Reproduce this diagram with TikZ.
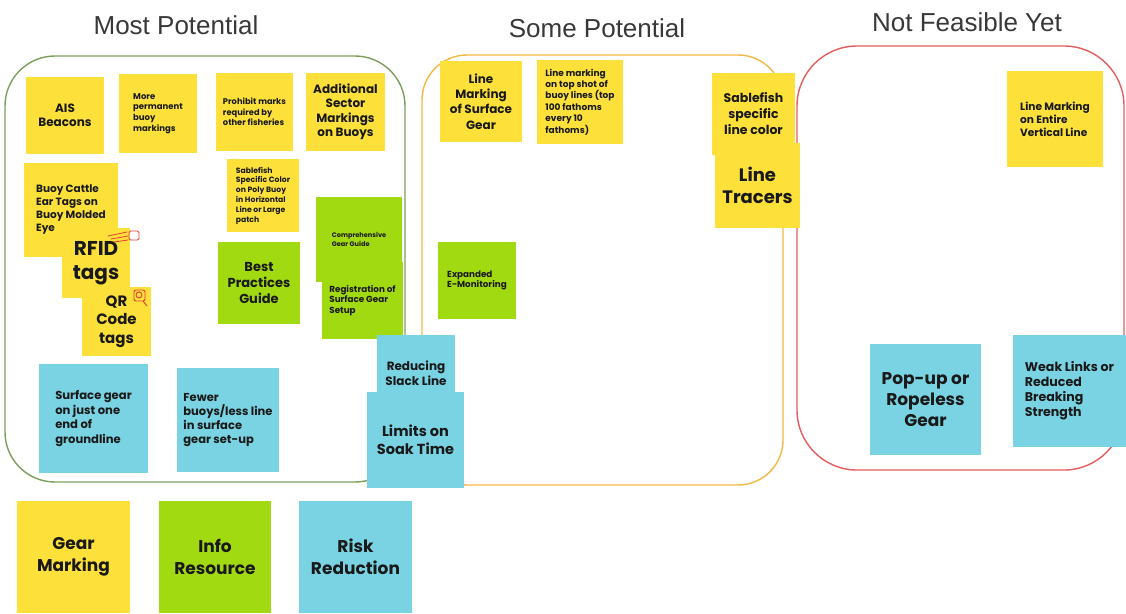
\documentclass[tikz,border=0pt]{standalone}
\usepackage{fontspec}
\setmainfont{Poppins}
\newfontfamily\headfont{Liberation Sans}
\definecolor{stickyyellow}{HTML}{FDE13A}
\definecolor{stickylime}{HTML}{A2DA12}
\definecolor{stickyaqua}{HTML}{7AD3E2}
\definecolor{colgreen}{HTML}{7BA05B}
\definecolor{colorange}{HTML}{F4B844}
\definecolor{colred}{HTML}{E65C5C}
\definecolor{doodle}{HTML}{E63C3C}
\begin{document}
\begin{tikzpicture}[
      x=1pt, y=-1pt,
      note/.style={inner sep=0pt, align=center, text=black!90},
      yel/.style={note, fill=stickyyellow},
      lime/.style={note, fill=stickylime},
      aqua/.style={note, fill=stickyaqua},
      lft/.style={align=left},
      fs/.style 2 args={font=\fontsize{#1}{#2}\selectfont\bfseries},
      wh/.style 2 args={minimum width=#1pt, minimum height=#2pt},
      column/.style={line width=1.4pt},
      heading/.style={font=\headfont\fontsize{26}{30}\selectfont, text=black!78}
    ]
    \useasboundingbox (0,0) rectangle (1126,613);

    % Column frames
    \draw[column, draw=colgreen, rounded corners=50pt] (5,56) rectangle (405,482);
    \draw[column, draw=colorange, rounded corners=45pt] (422,55) rectangle (783,485);
    \draw[column, draw=colred, rounded corners=60pt] (797,46) rectangle (1124,470);

    % Column headings
    \node[heading] (hmost) at (176,25) {Most Potential};
    \node[heading] (hsome) at (597,28) {Some Potential};
    \node[heading] (hnot) at (967,22) {Not Feasible Yet};

    % Most potential: gear marking
    \node[yel, wh={78}{77}, fs={12}{14.5}] (ais) at (65,115.5) {AIS\\Beacons};
    \node[yel, lft, wh={78}{79}, fs={8.5}{10.8}] (perm) at (158,113.5) {More\\permanent\\buoy\\markings};
    \node[yel, lft, wh={77}{78}, fs={8.3}{10.6}] (prohib) at (254.5,112) {Prohibit marks\\required by\\other fisheries};
    \node[yel, wh={79}{78}, fs={12}{14.5}] (sector) at (345.5,112) {Additional\\Sector\\Markings\\on Buoys};
    \node[yel, lft, wh={94}{94}, fs={10.5}{13}] (cattle) at (71,210) {Buoy Cattle\\Ear Tags on\\Buoy Molded\\Eye};
    \node[yel, wh={68}{70}, fs={20}{24}] (rfid) at (96,263) {RFID\\tags};
    \node[yel, wh={69}{69}, fs={15}{18.5}] (qr) at (116.5,321.5) {QR\\Code\\tags};
    \node[yel, lft, wh={72}{73}, fs={7.7}{9.8}] (sabbuoy) at (263,195.5) {Sablefish\\Specific Color\\on Poly Buoy\\in Horizontal\\Line or Large\\patch};

    % Most potential: info resource
    \node[lime, lft, wh={86}{85}, fs={6.6}{8.4}] (compguide) at (359,239.5) {Comprehensive\\Gear Guide};
    \node[lime, lft, wh={81}{77}, fs={8.8}{10.6}] (regist) at (362.5,300.5) {Registration of\\Surface Gear\\Setup};
    \node[lime, wh={82}{82}, fs={13}{16}] (bestprac) at (259,283) {Best\\Practices\\Guide};

    % Most potential: risk reduction
    \node[aqua, lft, wh={109}{109}, fs={11.6}{14.5}] (oneend) at (93.5,418.5) {Surface gear\\on just one\\end of\\groundline};
    \node[aqua, lft, wh={102}{104}, fs={11.5}{14}] (fewer) at (228,420) {Fewer\\buoys/less line\\in surface\\gear set-up};
    \node[aqua, wh={78}{76}, fs={12}{14.5}] (slack) at (416,373) {Reducing\\Slack Line};
    \node[aqua, wh={97}{96}, fs={14.5}{18}] (soak) at (415.5,440) {Limits on\\Soak Time};

    % Some potential
    \node[yel, wh={82}{81}, fs={12}{15.3}] (surfline) at (481,101.5) {Line\\Marking\\of Surface\\Gear};
    \node[yel, lft, wh={86}{84}, fs={9}{11.4}] (topshot) at (580,102) {Line marking\\on top shot of\\buoy lines (top\\100 fathoms\\every 10\\fathoms)};
    \node[yel, wh={83}{82}, fs={12.5}{16}] (sabline) at (753.5,114) {Sablefish\\specific\\line color};
    \node[yel, wh={85}{85}, fs={18}{22.5}] (tracer) at (757.5,185.5) {Line\\Tracers};
    \node[lime, lft, wh={78}{77}, fs={8.8}{10.8}] (emon) at (477,280.5) {Expanded\\E-Monitoring};

    % Not feasible yet
    \node[yel, lft, wh={96}{96}, fs={10.6}{13}] (vertline) at (1055,119) {Line Marking\\on Entire\\Vertical Line};
    \node[aqua, wh={111}{111}, fs={17}{21}] (popup) at (925.5,399.5) {Pop-up or\\Ropeless\\Gear};
    \node[aqua, lft, wh={113}{112}, fs={12.6}{15}] (weak) at (1069.5,391) {Weak Links or\\Reduced\\Breaking\\Strength};

    % Legend
    \node[yel, wh={113}{112}, fs={17}{21.5}] (kgear) at (73.5,557) {Gear\\Marking};
    \node[lime, wh={112}{112}, fs={17}{21.5}] (kinfo) at (215,557) {Info\\Resource};
    \node[aqua, wh={113}{112}, fs={17}{21.5}] (krisk) at (355.5,557) {Risk\\Reduction};

    % Hand-drawn marks
    \draw[doodle, line width=0.9pt, rounded corners=1.5pt] (129,231) rectangle (139,240);
    \draw[doodle, line width=0.8pt, line cap=round]
      (108,236) -- (127,232) (111,239) -- (128,236) (114,242) -- (128,240);
    \draw[doodle, line width=0.9pt, rounded corners=2pt] (134,290) rectangle (145,301);
    \draw[doodle, line width=0.9pt] (139,295) circle (3pt) (143,301) -- (147,306);
  \end{tikzpicture}
\end{document}
